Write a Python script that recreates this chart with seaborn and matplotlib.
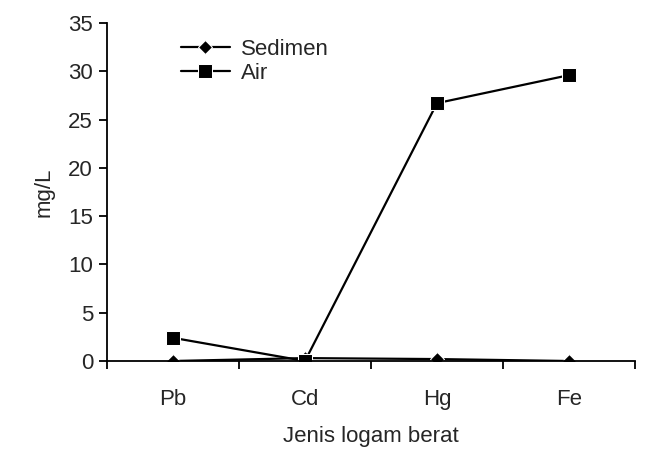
import matplotlib
matplotlib.use("Agg")
import matplotlib.pyplot as plt
import numpy as np
import pandas as pd
import seaborn as sns

# data
logam = ["Pb", "Cd", "Hg", "Fe"]
sedimen = [0.0, 0.3, 0.2, 0.0]
air = [2.4, 0.0, 26.7, 29.6]
y_ticks = [0, 5, 10, 15, 20, 25, 30, 35]

sns.set_theme(style="white")
plt.rcParams["font.family"] = ["Liberation Sans", "DejaVu Sans"]

df = pd.DataFrame({
    "logam": logam * 2,
    "nilai": sedimen + air,
    "seri": ["Sedimen"] * len(logam) + ["Air"] * len(logam),
})

fig = plt.figure(figsize=(6.61, 4.72), dpi=100)
ax = fig.add_axes([107 / 661, 1 - 361 / 472, (635 - 107) / 661, (361 - 23) / 472])

sns.lineplot(
    data=df, x="logam", y="nilai", hue="seri", style="seri",
    markers={"Sedimen": "D", "Air": "s"}, dashes=False,
    palette={"Sedimen": "black", "Air": "black"},
    markersize=10, linewidth=1.6, sort=False, ax=ax,
)
# smaller diamond for Sedimen
for line in ax.lines:
    if line.get_marker() == "D":
        line.set_markersize(7)

ax.set_xlim(-0.5, len(logam) - 0.5)
ax.set_ylim(0, 35)
ax.set_yticks(y_ticks)
ax.set_xticks(range(len(logam)))
ax.set_xticks(np.arange(-0.5, len(logam), 1.0), minor=True)
ax.tick_params(axis="x", which="major", bottom=False, labelsize=16, pad=14)
ax.tick_params(axis="x", which="minor", bottom=True, length=6, width=1.3,
               direction="out", color="black")
ax.tick_params(axis="y", left=True, length=6, width=1.3, direction="out",
               color="black", labelsize=16, pad=4)

for side in ["top", "right"]:
    ax.spines[side].set_visible(False)
for side in ["left", "bottom"]:
    ax.spines[side].set_color("black")
    ax.spines[side].set_linewidth(1.3)

ax.set_xlabel("Jenis logam berat", fontsize=16, labelpad=12)
ax.set_ylabel("mg/L", fontsize=16, labelpad=10)

handles, labels = ax.get_legend_handles_labels()
ax.legend(handles, labels, loc="upper left", bbox_to_anchor=(0.11, 1.0),
          frameon=False, fontsize=16, handlelength=2.2, labelspacing=0.15,
          handletextpad=0.5, borderaxespad=0.3)

fig.savefig("out.png", dpi=100)
